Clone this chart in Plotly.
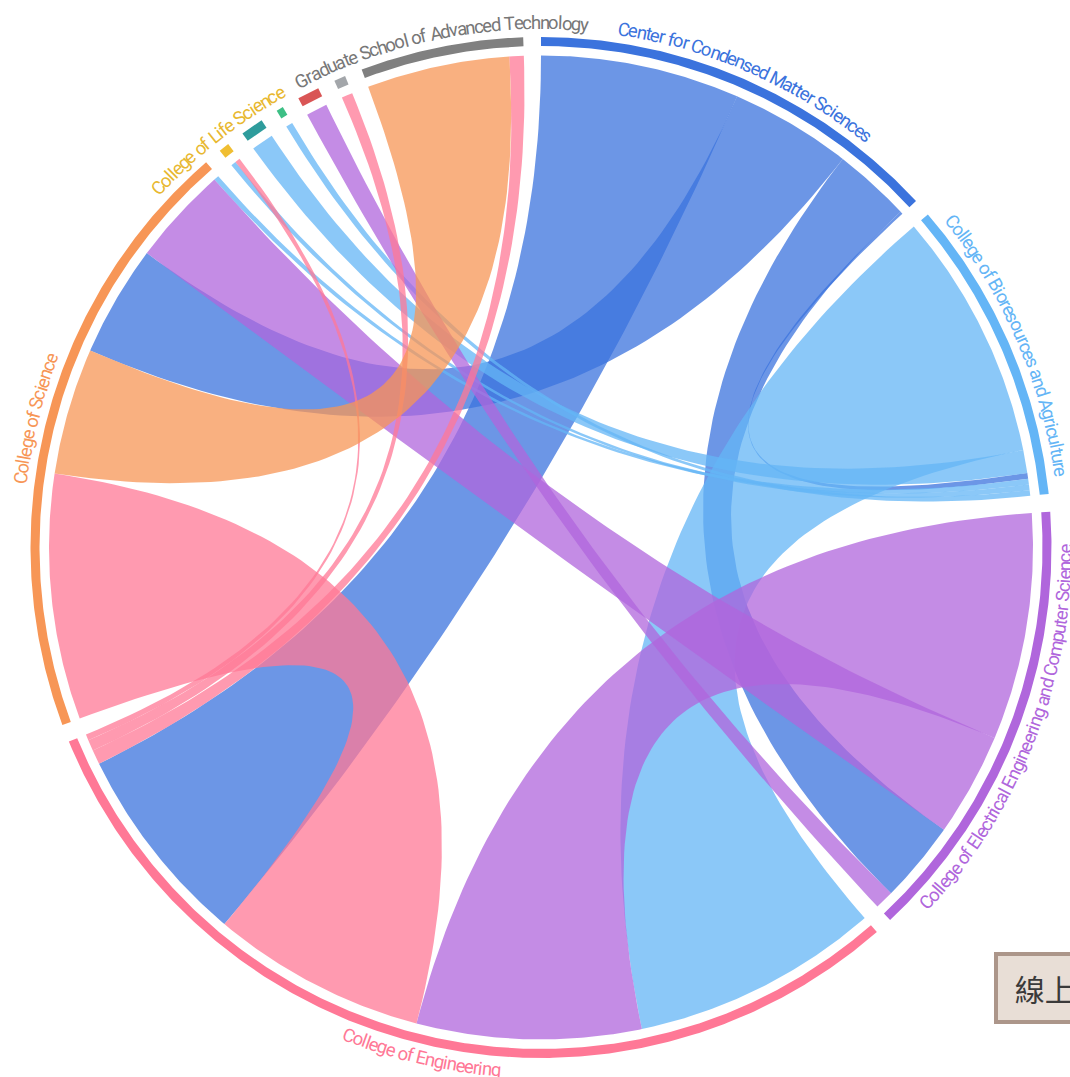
import math
import numpy as np
import plotly.graph_objects as go

# group labels (the four tiny groups carry no visible label)
labels = [
    "Center for Condensed Matter Sciences",
    "College of Bioresources and Agriculture",
    "College of Electrical Engineering and Computer Science",
    "College of Engineering",
    "College of Science",
    "College of Life Science",
    "",
    "",
    "",
    "",
    "Graduate School of Advanced Technology",
]
colors = [
    "#3b73dd", "#64b5f6", "#b066dc", "#ff7896", "#f79656",
    "#f0be32", "#2e9c9c", "#3dbf85", "#d95555", "#a3a6aa", "#808080",
]
label_colors = [
    "#3b73dd", "#64b5f6", "#b066dc", "#ff7896", "#f79656",
    "#e8b830", "", "", "", "", "#777777",
]

# flow matrix rows (share of each group going to each other group)
ccms = [0, 0.3, 9.1, 23.4, 14.3, 0, 0, 0, 0, 0, 0]
bio = [0.67, 0, 0, 29.2, 0.67, 0.67, 2.7, 0.67, 0, 0, 0]
eecs = [9.6, 0, 0, 26.7, 12.2, 0, 0, 0, 2.2, 0, 0]
eng = [23.8, 29.2, 26.4, 0, 25.3, 0.7, 0, 0, 0, 1.3, 1.7]
sci = [13.1, 0.6, 11.6, 28.9, 0, 0, 0, 0, 0, 0, 14.9]
life = [0, 0.6, 0, 0.6, 0, 0, 0, 0, 0, 0, 0]
teal = [0, 2.6, 0, 0, 0, 0, 0, 0, 0, 0, 0]
green = [0, 0.8, 0, 0, 0, 0, 0, 0, 0, 0, 0]
red = [0, 0, 2.5, 0, 0, 0, 0, 0, 0, 0, 0]
gray = [0, 0, 0, 1.3, 0, 0, 0, 0, 0, 0, 0]
grad = [0, 0, 0, 1.7, 16.8, 0, 0, 0, 0, 0, 0]
matrix = [ccms, bio, eecs, eng, sci, life, teal, green, red, gray, grad]

R_RIB = 492
R_IN, R_OUT = 501.5, 510.5
R_TEXT = 524.5
PAD = math.radians(2)
SPACING_SIZE = 16.5   # size used for letter advance
FONT_SIZE = 18.5      # size the glyphs are drawn at (condensed look)

# approximate Roboto advance widths (units per em = 2048)
ADV = {
    " ": 507, "a": 1086, "b": 1120, "c": 1045, "d": 1126, "e": 1058, "f": 693,
    "g": 1120, "h": 1102, "i": 486, "j": 478, "k": 1014, "l": 486, "m": 1751,
    "n": 1104, "o": 1141, "p": 1120, "q": 1125, "r": 678, "s": 1031, "t": 653,
    "u": 1102, "v": 968, "w": 1502, "x": 992, "y": 947, "z": 992,
    "A": 1336, "B": 1277, "C": 1333, "E": 1164, "G": 1395, "L": 1102,
    "M": 1745, "S": 1216, "T": 1222,
}


def hex_rgba(h, a):
    h = h.lstrip("#")
    return f"rgba({int(h[0:2], 16)},{int(h[2:4], 16)},{int(h[4:6], 16)},{a})"


def pt(r, a):
    return np.array([r * math.sin(a), r * math.cos(a)])


def arc_xy(r, a0, a1):
    n = max(2, int(abs(math.degrees(a1 - a0)) * 3))
    t = np.linspace(a0, a1, n)
    return list(r * np.sin(t)), list(r * np.cos(t))


def quad_xy(p0, p2, n=80):
    t = np.linspace(0, 1, n)[:, None]
    p = (1 - t) ** 2 * p0 + t ** 2 * p2
    return list(p[:, 0]), list(p[:, 1])


# chord layout: groups clockwise from 12 o'clock, subgroups sorted descending
n = len(matrix)
total = sum(sum(row) for row in matrix)
k = (2 * math.pi - n * PAD) / total
group_span = []
sub = {}
x = 0.0
for i in range(n):
    x0 = x
    order = sorted(range(n), key=lambda j: -matrix[i][j])
    for j in order:
        v = matrix[i][j] * k
        sub[(i, j)] = (x, x + v)
        x += v
    group_span.append((x0, x))
    x += PAD

fig = go.Figure()

# ribbons, coloured by the lower-index group
for i in range(n):
    for j in range(i, n):
        if matrix[i][j] == 0 and matrix[j][i] == 0:
            continue
        a0, a1 = sub[(i, j)]
        b0, b1 = sub[(j, i)]
        xs, ys = [], []
        for seg in (
            arc_xy(R_RIB, a0, a1),
            quad_xy(pt(R_RIB, a1), pt(R_RIB, b0)),
            arc_xy(R_RIB, b0, b1),
            quad_xy(pt(R_RIB, b1), pt(R_RIB, a0)),
        ):
            xs += seg[0]
            ys += seg[1]
        fig.add_trace(
            go.Scatter(
                x=xs, y=ys, mode="lines", fill="toself",
                fillcolor=hex_rgba(colors[i], 0.75),
                line=dict(width=0), hoverinfo="skip",
            )
        )

# outer group arcs
for i, (g0, g1) in enumerate(group_span):
    ox, oy = arc_xy(R_OUT, g0, g1)
    ix, iy = arc_xy(R_IN, g1, g0)
    fig.add_trace(
        go.Scatter(
            x=ox + ix, y=oy + iy, mode="lines", fill="toself",
            fillcolor=colors[i], line=dict(width=0), hoverinfo="skip",
        )
    )

# curved labels, one annotation per character
annotations = []
for i, name in enumerate(labels):
    if not name:
        continue
    g0, g1 = group_span[i]
    mid = (g0 + g1) / 2
    flip = 90 < math.degrees(mid) < 270
    widths = [ADV.get(c, 1100) / 2048 * SPACING_SIZE for c in name]
    s = -sum(widths) / 2
    for ch, w in zip(name, widths):
        c = s + w / 2
        s += w
        if ch == " ":
            continue
        th = mid - c / R_TEXT if flip else mid + c / R_TEXT
        p = pt(R_TEXT, th)
        rot = math.degrees(th) - (180 if flip else 0)
        rot = (rot + 180) % 360 - 180
        annotations.append(
            dict(
                x=p[0], y=p[1], text=ch, textangle=rot, showarrow=False,
                xanchor="center", yanchor="middle",
                font=dict(family="Roboto", size=FONT_SIZE, color=label_colors[i]),
            )
        )

# page button partly cut off at the right edge
annotations.append(
    dict(
        x=453, y=-440.5, xanchor="left", yanchor="middle", showarrow=False,
        text="&nbsp;線上互動",
        font=dict(family="Noto Sans CJK TC", size=30, color="#3a3a3a"),
        bgcolor="#e8ded6", bordercolor="#ac968a", borderwidth=4, borderpad=10,
    )
)

fig.update_layout(
    width=1070,
    height=1077,
    margin=dict(l=0, r=0, t=0, b=0),
    xaxis=dict(range=[-541, 529], visible=False, fixedrange=True),
    yaxis=dict(range=[-529.5, 547.5], visible=False, fixedrange=True),
    plot_bgcolor="white",
    paper_bgcolor="white",
    showlegend=False,
    annotations=annotations,
)

fig.write_html(
    "out.html",
    config={"displayModeBar": False},
    post_script="document.body.style.margin='0px';",
)
